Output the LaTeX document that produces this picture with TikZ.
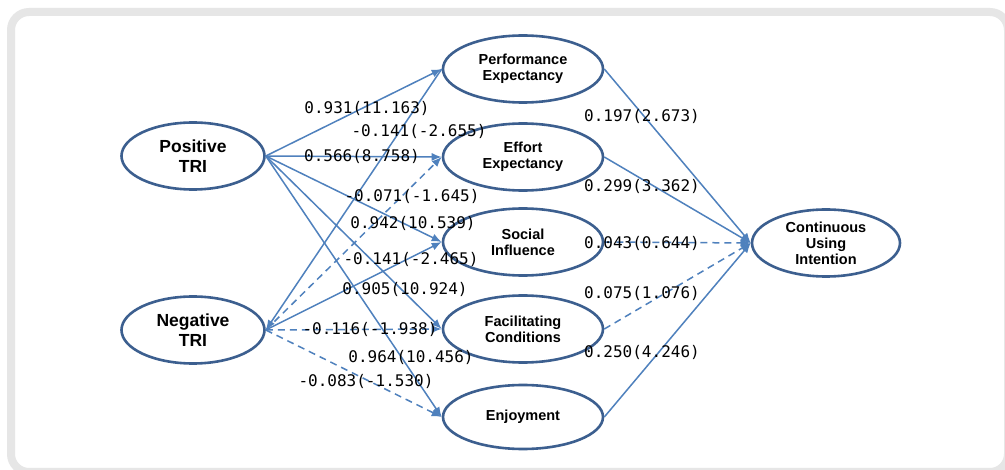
\documentclass[tikz,border=0pt]{standalone}
\usepackage{fontspec}
\setmainfont{Liberation Sans}
\newfontfamily\labfont{DejaVu Sans Mono}
\usetikzlibrary{shapes.geometric,arrows.meta}
\definecolor{linec}{HTML}{4F81BD}
\definecolor{ellc}{HTML}{3C5F8F}
\definecolor{framec}{HTML}{E6E6E6}
\begin{document}
\begin{tikzpicture}[x=1pt,y=-1pt,
  latent/.style={ellipse, draw=ellc, line width=2.6pt, fill=white, inner sep=0pt, align=center,
    minimum width=160pt, minimum height=67pt, font=\bfseries\fontsize{14.5}{16}\selectfont},
  bigl/.style={latent, minimum width=143pt, font=\bfseries\fontsize{17.5}{20}\selectfont},
  conn/.style={draw=linec, line width=1.5pt, -{Latex[length=10pt,width=8pt]}},
  dconn/.style={conn, dash pattern=on 7pt off 5pt},
  coef/.style={font=\labfont\fontsize{16}{16}\selectfont, text=black, inner sep=0pt}]
\useasboundingbox (0,0) rectangle (1005,470);
\fill[white] (0,0) rectangle (1005,470);
\draw[framec, line width=8pt, rounded corners=18pt] (11,12) rectangle (1008,472);

\node[bigl] (pos) at (193,156) {Positive\\TRI};
\node[bigl] (neg) at (193,330) {Negative\\TRI};
\node[latent] (pe) at (523,69) {Performance\\Expectancy};
\node[latent] (ee) at (523,157) {Effort\\Expectancy};
\node[latent] (si) at (523,242) {Social\\Influence};
\node[latent] (fc) at (523,329) {Facilitating\\Conditions};
\node[latent, minimum height=64pt] (ej) at (523,417) {Enjoyment};
\node[latent, minimum width=148pt] (cui) at (826,243) {Continuous\\Using\\Intention};

% from Positive TRI
\draw[conn] (pos.east) -- (pe.west);
\draw[conn] (pos.east) -- (ee.west);
\draw[conn] (pos.east) -- (si.west);
\draw[conn] (pos.east) -- (fc.west);
\draw[conn] (pos.east) -- (ej.west);
% from Negative TRI
\draw[conn] (pe.west) -- (neg.east);
\draw[dconn] (neg.east) -- (ee.west);
\draw[conn] (neg.east) -- (si.west);
\draw[dconn] (neg.east) -- (fc.west);
\draw[dconn] (neg.east) -- (ej.west);
% to CUI
\draw[conn] (pe.east) -- (cui.west);
\draw[conn] (ee.east) -- (cui.west);
\draw[dconn] (si.east) -- (cui.west);
\draw[dconn] (fc.east) -- (cui.west);
\draw[conn] (ej.east) -- (cui.west);

% coefficients
\node[coef] (c1) at (367,108) {0.931(11.163)};
\node[coef] (c2) at (419,131) {-0.141(-2.655)};
\node[coef] (c3) at (362,156) {0.566(8.758)};
\node[coef] (c4) at (412,196) {-0.071(-1.645)};
\node[coef] (c5) at (413,223) {0.942(10.539)};
\node[coef] (c6) at (411,259) {-0.141(-2.465)};
\node[coef] (c7) at (405,289) {0.905(10.924)};
\node[coef] (c8) at (370,329) {-0.116(-1.938)};
\node[coef] (c9) at (411,357) {0.964(10.456)};
\node[coef] (c10) at (366,381) {-0.083(-1.530)};
\node[coef] (d1) at (642,116) {0.197(2.673)};
\node[coef] (d2) at (642,186) {0.299(3.362)};
\node[coef] (d3) at (642,243) {0.043(0.644)};
\node[coef] (d4) at (642,293) {0.075(1.076)};
\node[coef] (d5) at (642,352) {0.250(4.246)};
\end{tikzpicture}
\end{document}
